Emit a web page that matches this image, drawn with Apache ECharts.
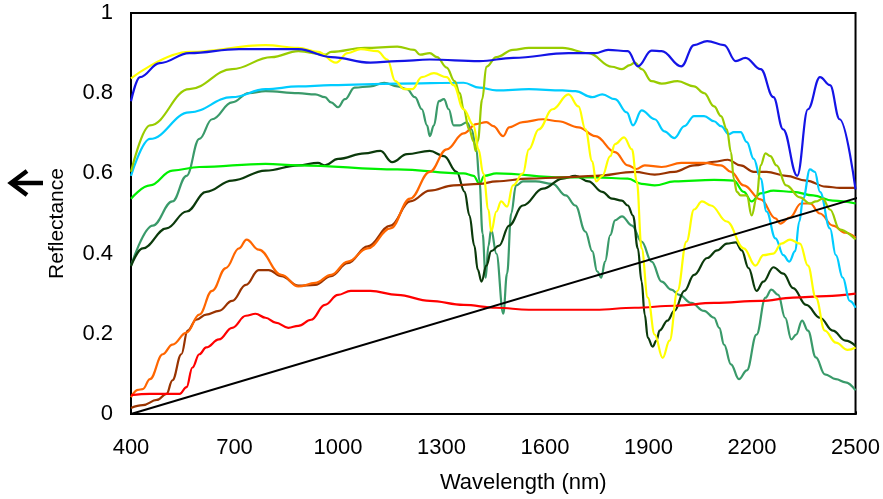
<!DOCTYPE html>
<html>
<head>
<meta charset="utf-8">
<script src="https://cdn.jsdelivr.net/npm/echarts@6/dist/echarts.min.js"></script>
<style>html,body{margin:0;padding:0;background:#fff}#c{width:883px;height:499px}</style>
</head>
<body>
<div id="c"></div>
<script>
// x tick labels (nm) and y tick labels
const xTicks = [400, 700, 1000, 1300, 1600, 1900, 2200, 2500];
const yTicks = [0, 0.2, 0.4, 0.6, 0.8, 1];

// Series data: [wavelength nm, reflectance]
const blue = [[400,0.78],[426,0.84],[483,0.875],[569,0.90],[713,0.91],[885,0.91],[980,0.89],[1094,0.876],[1172,0.88],[1266,0.884],[1410,0.88],[1508,0.888],[1668,0.90],[1746,0.90],[1783,0.908],[1840,0.905],[1869,0.867],[1909,0.906],[1938,0.905],[1995,0.867],[2032,0.92],[2070,0.93],[2119,0.92],[2153,0.88],[2181,0.888],[2225,0.86],[2262,0.79],[2290,0.71],[2331,0.594],[2362,0.76],[2397,0.84],[2426,0.82],[2454,0.735],[2500,0.56]];
const yellow = [[400,0.837],[569,0.903],[790,0.92],[885,0.913],[942,0.903],[994,0.876],[1028,0.9],[1066,0.91],[1114,0.905],[1143,0.884],[1166,0.83],[1192,0.81],[1215,0.81],[1243,0.84],[1278,0.85],[1315,0.84],[1335,0.82],[1364,0.76],[1393,0.72],[1407,0.66],[1421,0.6],[1436,0.51],[1444,0.455],[1459,0.505],[1473,0.53],[1490,0.517],[1507,0.57],[1536,0.60],[1553,0.66],[1582,0.71],[1622,0.76],[1668,0.797],[1697,0.767],[1717,0.71],[1737,0.63],[1748,0.58],[1766,0.594],[1789,0.643],[1803,0.673],[1829,0.69],[1852,0.66],[1866,0.58],[1880,0.413],[1898,0.29],[1918,0.198],[1941,0.14],[1961,0.183],[1984,0.307],[2010,0.43],[2032,0.51],[2055,0.53],[2081,0.52],[2127,0.48],[2176,0.413],[2210,0.37],[2233,0.396],[2262,0.40],[2285,0.425],[2310,0.435],[2339,0.425],[2362,0.37],[2385,0.29],[2411,0.208],[2443,0.178],[2477,0.16],[2500,0.166]];
const yellowGreen = [[400,0.604],[455,0.72],[569,0.81],[693,0.86],[807,0.89],[885,0.905],[962,0.896],[980,0.903],[1077,0.913],[1172,0.916],[1221,0.908],[1238,0.896],[1266,0.90],[1287,0.89],[1315,0.864],[1338,0.83],[1353,0.80],[1364,0.76],[1380,0.71],[1393,0.68],[1399,0.656],[1405,0.68],[1418,0.785],[1430,0.866],[1459,0.89],[1507,0.908],[1553,0.913],[1651,0.913],[1726,0.90],[1794,0.866],[1823,0.86],[1846,0.87],[1860,0.876],[1880,0.86],[1909,0.83],[1938,0.824],[1984,0.83],[2032,0.817],[2061,0.80],[2090,0.767],[2110,0.743],[2127,0.71],[2139,0.653],[2147,0.587],[2156,0.554],[2167,0.545],[2185,0.545],[2199,0.495],[2213,0.537],[2225,0.62],[2239,0.65],[2253,0.643],[2271,0.62],[2299,0.57],[2339,0.54],[2368,0.525],[2385,0.53],[2405,0.537],[2426,0.51],[2454,0.46],[2500,0.435]];
const lightBlue = [[400,0.594],[455,0.686],[569,0.752],[693,0.79],[790,0.81],[885,0.817],[980,0.82],[1172,0.824],[1364,0.826],[1410,0.814],[1459,0.807],[1553,0.81],[1651,0.807],[1688,0.805],[1737,0.79],[1766,0.797],[1803,0.785],[1837,0.752],[1855,0.72],[1880,0.757],[1918,0.735],[1946,0.705],[1975,0.688],[2004,0.718],[2032,0.743],[2061,0.743],[2090,0.73],[2110,0.718],[2133,0.698],[2147,0.703],[2167,0.703],[2185,0.678],[2205,0.636],[2225,0.587],[2242,0.505],[2268,0.438],[2291,0.396],[2308,0.38],[2325,0.406],[2337,0.48],[2348,0.537],[2368,0.61],[2382,0.604],[2397,0.554],[2426,0.463],[2443,0.396],[2463,0.34],[2483,0.282],[2500,0.265]];
const seaGreen = [[400,0.37],[463,0.47],[520,0.53],[561,0.594],[598,0.686],[635,0.735],[693,0.777],[741,0.80],[790,0.805],[885,0.80],[934,0.797],[962,0.79],[980,0.777],[1000,0.765],[1020,0.785],[1048,0.814],[1094,0.817],[1134,0.826],[1172,0.817],[1200,0.81],[1223,0.79],[1243,0.76],[1258,0.72],[1266,0.693],[1278,0.72],[1292,0.78],[1307,0.785],[1321,0.76],[1335,0.72],[1353,0.72],[1373,0.727],[1387,0.71],[1401,0.66],[1410,0.58],[1419,0.45],[1428,0.34],[1436,0.42],[1444,0.46],[1459,0.40],[1479,0.25],[1490,0.35],[1502,0.50],[1516,0.57],[1536,0.58],[1573,0.58],[1622,0.574],[1660,0.545],[1688,0.52],[1717,0.455],[1737,0.406],[1751,0.356],[1763,0.34],[1774,0.38],[1789,0.446],[1803,0.483],[1823,0.493],[1852,0.47],[1880,0.43],[1909,0.38],[1938,0.33],[1966,0.31],[1989,0.297],[2024,0.277],[2061,0.257],[2090,0.24],[2105,0.215],[2119,0.173],[2139,0.124],[2162,0.087],[2185,0.109],[2213,0.198],[2239,0.29],[2256,0.31],[2276,0.297],[2296,0.24],[2314,0.186],[2328,0.198],[2345,0.233],[2362,0.208],[2385,0.141],[2411,0.099],[2443,0.087],[2471,0.079],[2500,0.059]];
const green = [[400,0.537],[455,0.57],[520,0.607],[598,0.616],[790,0.624],[885,0.62],[1172,0.61],[1364,0.60],[1393,0.594],[1410,0.574],[1424,0.594],[1459,0.6],[1651,0.59],[1746,0.59],[1840,0.587],[1880,0.574],[1918,0.57],[1975,0.58],[2090,0.584],[2147,0.582],[2176,0.554],[2199,0.53],[2225,0.55],[2262,0.557],[2320,0.554],[2377,0.545],[2434,0.532],[2500,0.525]];
const darkGreen = [[400,0.369],[434,0.413],[503,0.463],[561,0.505],[618,0.554],[693,0.582],[790,0.607],[885,0.62],[942,0.626],[962,0.62],[1000,0.636],[1077,0.65],[1123,0.656],[1157,0.628],[1200,0.648],[1266,0.656],[1307,0.643],[1344,0.604],[1367,0.554],[1381,0.495],[1395,0.42],[1405,0.36],[1416,0.33],[1430,0.37],[1444,0.406],[1467,0.42],[1496,0.47],[1536,0.52],[1594,0.562],[1651,0.587],[1688,0.594],[1726,0.58],[1766,0.554],[1794,0.537],[1823,0.532],[1840,0.52],[1855,0.495],[1869,0.413],[1880,0.33],[1889,0.248],[1898,0.19],[1912,0.168],[1923,0.183],[1932,0.208],[1955,0.233],[1975,0.257],[2004,0.307],[2032,0.347],[2070,0.389],[2099,0.408],[2127,0.425],[2153,0.428],[2170,0.408],[2190,0.364],[2213,0.307],[2233,0.33],[2262,0.366],[2291,0.35],[2319,0.314],[2357,0.272],[2397,0.24],[2434,0.208],[2471,0.183],[2500,0.17]];
const orange = [[400,0.042],[420,0.06],[434,0.062],[455,0.087],[492,0.149],[520,0.173],[561,0.203],[598,0.248],[635,0.307],[675,0.364],[713,0.413],[735,0.435],[770,0.41],[836,0.347],[885,0.318],[934,0.327],[980,0.347],[1028,0.38],[1086,0.413],[1152,0.463],[1209,0.537],[1266,0.604],[1315,0.66],[1364,0.70],[1401,0.723],[1430,0.728],[1450,0.718],[1479,0.693],[1496,0.715],[1536,0.728],[1594,0.735],[1639,0.73],[1697,0.715],[1746,0.693],[1803,0.653],[1840,0.62],[1865,0.611],[1889,0.62],[1938,0.616],[1995,0.626],[2061,0.626],[2110,0.62],[2139,0.604],[2176,0.57],[2225,0.535],[2268,0.488],[2282,0.475],[2310,0.49],[2342,0.525],[2368,0.525],[2397,0.5],[2434,0.47],[2471,0.452],[2500,0.44]];
const brown = [[400,0.015],[434,0.022],[475,0.035],[503,0.05],[520,0.084],[546,0.149],[564,0.208],[589,0.235],[618,0.248],[655,0.257],[693,0.282],[733,0.322],[770,0.359],[799,0.359],[836,0.344],[885,0.32],[934,0.322],[980,0.344],[1028,0.376],[1086,0.418],[1152,0.47],[1209,0.53],[1266,0.557],[1335,0.57],[1410,0.574],[1459,0.58],[1553,0.587],[1651,0.59],[1746,0.594],[1860,0.604],[1918,0.597],[1975,0.604],[2032,0.62],[2090,0.629],[2130,0.634],[2167,0.62],[2205,0.604],[2242,0.604],[2299,0.594],[2357,0.582],[2414,0.567],[2454,0.564],[2500,0.564]];
const red = [[400,0.047],[455,0.05],[503,0.05],[541,0.05],[561,0.067],[578,0.116],[598,0.149],[618,0.166],[655,0.186],[693,0.215],[733,0.245],[761,0.25],[790,0.24],[819,0.228],[856,0.215],[885,0.22],[922,0.235],[962,0.272],[1000,0.297],[1037,0.307],[1094,0.307],[1172,0.297],[1266,0.282],[1364,0.272],[1459,0.265],[1553,0.26],[1746,0.26],[1860,0.265],[1975,0.27],[2090,0.277],[2225,0.282],[2319,0.29],[2414,0.294],[2500,0.30]];
// perspective guide lines of the 3D frame
const diagonal = [[400,0],[2557,0.552]];
const depthEdge = [[2500,0],[2557,0.059]];

const spectra = [
  {name:'seaGreen', data:seaGreen, color:'#3a9a6a'},
  {name:'darkGreen', data:darkGreen, color:'#0b3a0b'},
  {name:'green', data:green, color:'#00f000'},
  {name:'brown', data:brown, color:'#993300'},
  {name:'orange', data:orange, color:'#ff6600'},
  {name:'red', data:red, color:'#ff0000'},
  {name:'lightBlue', data:lightBlue, color:'#00ccff'},
  {name:'yellowGreen', data:yellowGreen, color:'#99cc00'},
  {name:'yellow', data:yellow, color:'#ffff00'},
  {name:'blue', data:blue, color:'#1414e6'}
];

const font = 'Liberation Sans, Arial, sans-serif';
const chart = echarts.init(document.getElementById('c'), null, {renderer:'canvas'});
const series = spectra.map(s => ({
  name: s.name, type:'line', data:s.data, showSymbol:false, smooth:0.4, smoothMonotone:'x',
  lineStyle:{color:s.color, width:2.2}, itemStyle:{color:s.color}, z:2, silent:true
}));
series.push({type:'line', data:diagonal, showSymbol:false, clip:false, lineStyle:{color:'#000', width:2}, z:3, silent:true});
series.push({type:'line', data:depthEdge, showSymbol:false, clip:false, lineStyle:{color:'#000', width:2}, z:3, silent:true});

chart.setOption({
  animation:false,
  backgroundColor:'#fff',
  grid:{left:131, right:20, top:13, bottom:82, show:true, borderColor:'#000', borderWidth:2, backgroundColor:'transparent'},
  xAxis:{type:'value', min:xTicks[0], max:xTicks[xTicks.length-1], interval:xTicks[1]-xTicks[0],
    axisLine:{show:true, lineStyle:{color:'#000', width:2}}, axisTick:{show:false}, splitLine:{show:false},
    axisLabel:{color:'#000', fontFamily:font, fontSize:22, margin:23, formatter:v => String(v)},
    name:'Wavelength (nm)', nameLocation:'middle', nameGap:58,
    nameTextStyle:{color:'#000', fontFamily:font, fontSize:22, padding:[0,0,0,60]}},
  yAxis:{type:'value', min:yTicks[0], max:yTicks[yTicks.length-1], interval:yTicks[1]-yTicks[0],
    axisLine:{show:true, lineStyle:{color:'#000', width:2}}, axisTick:{show:false}, splitLine:{show:false},
    axisLabel:{color:'#000', fontFamily:font, fontSize:22, margin:18, formatter:v => String(+v.toFixed(1))},
    name:'Reflectance', nameLocation:'middle', nameGap:63,
    nameTextStyle:{color:'#000', fontFamily:font, fontSize:21, padding:[0,20,0,0]}},
  graphic:[
    {type:'line', shape:{x1:11, y1:183, x2:43, y2:183}, style:{stroke:'#000', lineWidth:4.5}},
    {type:'polyline', shape:{points:[[27,171],[11,183],[27,195]]}, style:{stroke:'#000', lineWidth:4.5, fill:null}}
  ],
  series: series
});
</script>
</body>
</html>
